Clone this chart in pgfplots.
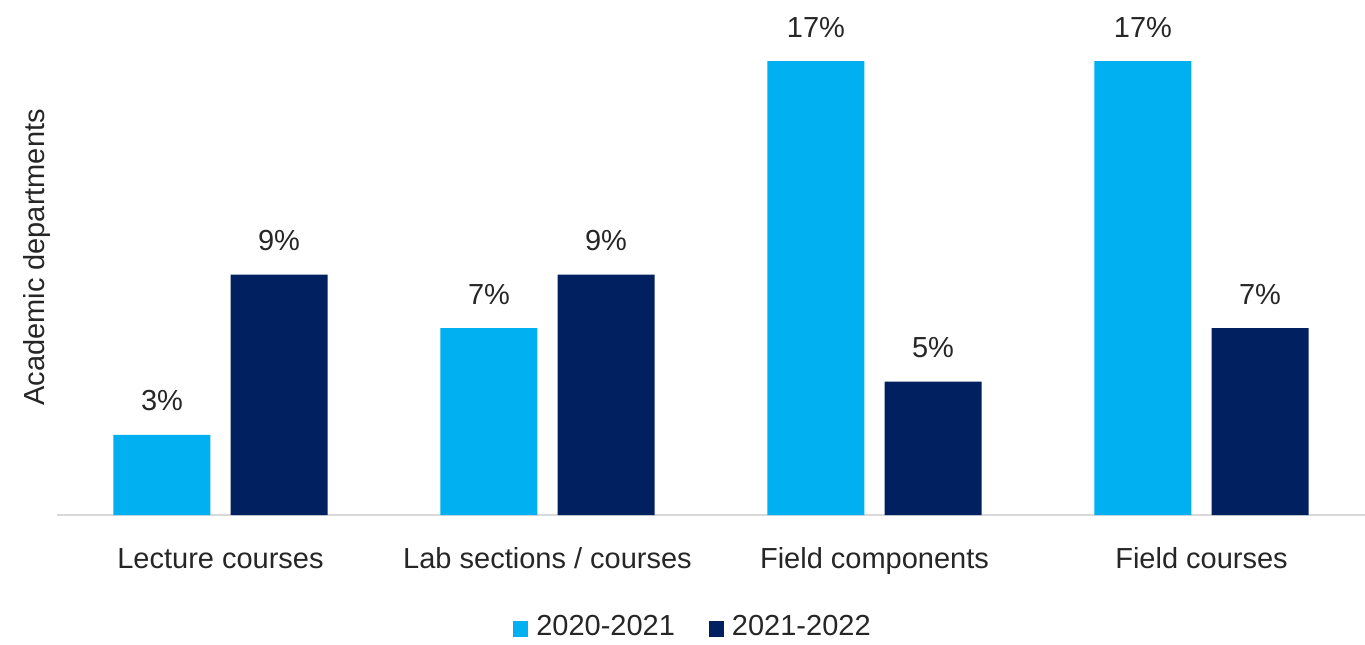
\documentclass[border=0pt]{standalone}
\usepackage{fontspec}
\setmainfont{Liberation Sans}
\usepackage{pgfplots}
\pgfplotsset{compat=1.18}

\definecolor{lightblue}{HTML}{00B0F0}
\definecolor{navy}{HTML}{002060}
\definecolor{axisgray}{HTML}{D9D9D9}
\definecolor{txt}{HTML}{262626}

\begin{document}
\begin{tikzpicture}[font=\fontsize{14.5pt}{17pt}\selectfont]
% picture frame: 1px = 0.5pt, axis box from (0,0) to (654pt,257.5pt)
\useasboundingbox (-28.5pt,-64.5pt) rectangle (654pt,257.5pt);
\begin{axis}[
    at={(0,0)}, anchor=south west,
    scale only axis,
    width=654pt, height=257.5pt,
    xmin=-0.5, xmax=3.5,
    ymin=0, ymax=19.29,
    clip=false,
    /pgf/number format/assume math mode=true,
    axis x line*=bottom,
    axis y line*=left,
    y axis line style={draw=none},
    ytick=\empty,
    x axis line style={axisgray, line width=1pt},
    xtick={0,1,2,3},
    xticklabels={Lecture courses, Lab sections / courses, Field components, Field courses},
    major tick length=0pt,
    xticklabel style={anchor=base, yshift=-26.5pt, text=txt},
    ylabel={Academic departments},
    ylabel style={at={(axis description cs:-0.0155,0.5)}, anchor=center, text=txt},
    ybar, bar width=0.2966,
    nodes near coords={\pgfmathprintnumber{\pgfplotspointmeta}\%},
    every node near coord/.append style={anchor=base, yshift=12pt, inner sep=0pt, text=txt},
    legend columns=2,
    legend style={at={(axis description cs:0.487,0)}, anchor=north, yshift=-46pt,
        draw=none, fill=none, text=txt,
        /tikz/every odd column/.append style={column sep=2pt},
        /tikz/every even column/.append style={column sep=15pt}},
    legend image code/.code={\path[#1, draw=none] (0pt,-4.8pt) rectangle (7.5pt,3.2pt);},
]
\addplot[fill=lightblue, draw=none, bar shift=-0.179]
    coordinates {(0,3) (1,7) (2,17) (3,17)};
\addplot[fill=navy, draw=none, bar shift=0.179]
    coordinates {(0,9) (1,9) (2,5) (3,7)};
\legend{2020-2021, 2021-2022}
\end{axis}
\end{tikzpicture}
\end{document}
